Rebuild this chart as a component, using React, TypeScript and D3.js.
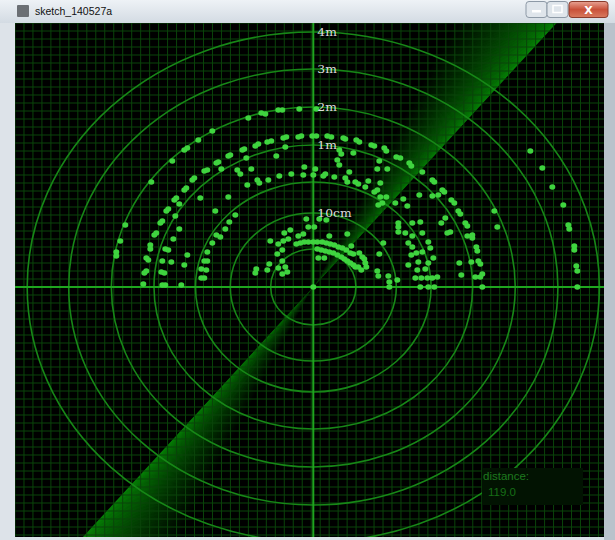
import { useEffect, useRef } from 'react';
import * as d3 from 'd3';

const W = 615;
const H = 540;
const TITLE = 'sketch_140527a';

// radar rings: distance (cm) and the label drawn on the vertical axis
const ringDistances = [5, 10, 50, 100, 200, 300, 400];
const ringLabels = ['', '10cm', '', '1m', '2m', '3m', '4m'];
const ringPixels = [38, 74, 105, 142, 180, 218, 255];

const sweepAngle = 50.6; // degrees, leading edge of the beam
const sweepTrail = 14; // degrees of fading trail
const distanceValue = 119.0;

// echoes as offsets from the radar centre [dx, dy] (y up)
const echoesUpperLeft: [number, number][] = [
	[-65, 169], [-52, 174], [-48, 173], [-101, 156], [-115, 147], [-126, 139], [-129, 137],
	[-141, 126], [-162, 105], [-83, 132], [-85, 131], [-95, 125], [-97, 124], [-106, 117],
	[-109, 116], [-92, 118], [-67, 129], [-71, 137], [-69, 138], [-58, 141], [-55, 143],
	[-46, 145], [-76, 117], [-73, 113], [-62, 118], [-66, 102], [-54, 104], [-56, 107],
	[-45, 107], [-119, 109], [-121, 107], [-127, 99], [-129, 97],
];

const echoesUpperMid: [number, number][] = [
	[-35, 177], [-31, 177], [-14, 178], [3, 178], [-42, 146], [-30, 149], [-27, 150],
	[-15, 150], [-12, 151], [-1, 151], [3, 151], [14, 151], [18, 150], [30, 149], [32, 148],
	[43, 147], [46, 145], [58, 142], [61, 141], [71, 139], [73, 136], [83, 130], [87, 129],
	[96, 124], [98, 121], [109, 115], [-28, 140], [-37, 131], [26, 137], [28, 133], [40, 134],
	[24, 127], [26, 122], [66, 126], [74, 118], [64, 118], [-9, 120], [2, 118], [-10, 112],
	[0, 112], [-22, 113], [-34, 111], [12, 113], [10, 111], [21, 110], [32, 109], [36, 115],
	[34, 105], [42, 105], [45, 103], [55, 106], [52, 100], [67, 104], [61, 95], [64, 97],
];

const echoesUpperRight: [number, number][] = [
	[217, 136], [229, 119], [239, 100], [119, 107], [121, 105], [129, 97], [131, 95],
];

const echoesLowerLeft: [number, number][] = [
	[-137, 89], [-139, 87], [-134, 83], [-145, 78], [-147, 76], [-151, 66], [-153, 64],
	[-138, 71], [-134, 58], [-157, 54], [-159, 52], [-188, 62], [-193, 46], [-197, 35],
	[-197, 31], [-163, 42], [-163, 38], [-140, 48], [-148, 38], [-145, 37], [-126, 32],
	[-129, 22], [-167, 29], [-165, 27], [-151, 26], [-142, 25], [-167, 16], [-169, 14],
	[-152, 15], [-149, 14], [-151, 2], [-148, 2], [-170, 3], [-132, 2], [-113, 89], [-85, 90],
	[-98, 76], [-78, 72], [-84, 65], [-88, 58], [-97, 52], [-93, 50], [-101, 44], [-106, 35],
	[-109, 26], [-106, 26], [-107, 17], [-112, 18], [-112, 9], [-109, 9], [-57, 18], [-58, 14],
];

const echoesLowerMid: [number, number][] = [
	[-7, 68], [6, 68], [13, 67], [-23, 57], [-29, 54], [-25, 48], [-30, 46], [-35, 43],
	[-43, 46], [-15, 51], [-10, 53], [-5, 60], [1, 60], [16, 51], [34, 53], [38, 41],
	[-31, 37], [-36, 33], [-31, 26], [-35, 19], [-28, 20], [-26, 15], [-31, 13], [-44, 23],
	[-46, 17], [-17, 43], [-13, 44], [-9, 45], [-5, 45], [0, 45], [4, 45], [9, 45], [13, 44],
	[17, 43], [21, 42], [25, 40], [29, 39], [33, 37], [37, 34], [40, 33], [4, 38], [8, 37],
	[12, 36], [16, 35], [20, 34], [24, 32], [28, 30], [31, 28], [34, 26], [37, 24], [40, 22],
	[42, 20], [5, 29], [11, 29], [46, 34], [49, 30], [51, 28], [52, 24], [45, 20], [48, 17],
	[53, 20], [0, 0],
];

const echoesLowerRight: [number, number][] = [
	[70, 44], [66, 33], [64, 16], [65, 11], [75, 11], [76, 5], [76, 0], [84, 7], [90, 88],
	[94, 81], [82, 84], [85, 64], [85, 60], [85, 55], [92, 54], [99, 64], [107, 65], [109, 54],
	[99, 51], [95, 44], [99, 40], [103, 34], [98, 32], [109, 35], [115, 45], [105, 25],
	[95, 22], [104, 17], [115, 24], [108, 9], [107, 0], [102, 9], [67, 90], [73, 90], [106, 92],
	[69, 84], [65, 82], [119, 91], [125, 92], [138, 87], [141, 84], [145, 76], [147, 73],
	[128, 64], [132, 69], [152, 64], [154, 61], [134, 54], [137, 55], [154, 51], [159, 52],
	[159, 49], [163, 40], [164, 36], [117, 39], [120, 29], [112, 18], [114, 9], [119, 9],
	[124, 10], [115, 0], [121, 0], [146, 24], [148, 12], [158, 25], [165, 26], [167, 23],
	[169, 13], [162, 10], [167, 10], [169, 0], [181, 76], [184, 60], [250, 82], [255, 62],
	[256, 58], [261, 41], [261, 37], [263, 21], [264, 16], [264, 0],
];

const echoes = [
	...echoesUpperLeft,
	...echoesUpperMid,
	...echoesUpperRight,
	...echoesLowerLeft,
	...echoesLowerMid,
	...echoesLowerRight,
];

// sketch canvas inside the window frame
const CANVAS = { x0: 15, y0: 23, x1: 604, y1: 537 };
const CX = 313.3;
const CY = 287;
const STRETCH = 1.122; // screenshot is wider than tall
const GRID = 8;

export default function App() {
	const svgRef = useRef<SVGSVGElement>(null);

	useEffect(() => {
		const svg = d3.select(svgRef.current);
		svg.selectAll('*').remove();
		const defs = svg.append('defs');

		// window chrome
		const tg = defs
			.append('linearGradient')
			.attr('id', 'title-grad')
			.attr('x1', 0)
			.attr('y1', 0)
			.attr('x2', 0)
			.attr('y2', 1);
		tg.append('stop').attr('offset', '0%').attr('stop-color', '#eef2f6');
		tg.append('stop').attr('offset', '100%').attr('stop-color', '#d3dbe3');

		const cg = defs
			.append('linearGradient')
			.attr('id', 'close-grad')
			.attr('x1', 0)
			.attr('y1', 0)
			.attr('x2', 0)
			.attr('y2', 1);
		cg.append('stop').attr('offset', '0%').attr('stop-color', '#e8a393');
		cg.append('stop').attr('offset', '50%').attr('stop-color', '#c9513a');
		cg.append('stop').attr('offset', '100%').attr('stop-color', '#d97b5f');

		svg.append('rect').attr('width', W).attr('height', H).attr('fill', '#dde3e9');
		svg.append('rect').attr('x', CANVAS.x1).attr('width', W - CANVAS.x1).attr('height', H).attr('fill', '#b9c2cb');
		svg.append('rect').attr('width', W).attr('height', CANVAS.y0).attr('fill', 'url(#title-grad)');

		svg.append('rect')
			.attr('x', 17)
			.attr('y', 5)
			.attr('width', 12)
			.attr('height', 12)
			.attr('rx', 1)
			.attr('fill', '#6b6f74');
		svg.append('text')
			.attr('x', 35)
			.attr('y', 15)
			.attr('font-family', 'Liberation Sans, Arial, sans-serif')
			.attr('font-size', 10.5)
			.attr('fill', '#111')
			.text(TITLE);

		const btn = svg.append('g');
		btn.append('rect')
			.attr('x', 526)
			.attr('y', 1.5)
			.attr('width', 21)
			.attr('height', 16)
			.attr('rx', 3)
			.attr('fill', '#dfe5eb')
			.attr('stroke', '#8d99a6');
		btn.append('rect')
			.attr('x', 547)
			.attr('y', 1.5)
			.attr('width', 21)
			.attr('height', 16)
			.attr('rx', 3)
			.attr('fill', '#dfe5eb')
			.attr('stroke', '#8d99a6');
		btn.append('rect')
			.attr('x', 569)
			.attr('y', 1.5)
			.attr('width', 39)
			.attr('height', 16)
			.attr('rx', 3)
			.attr('fill', 'url(#close-grad)')
			.attr('stroke', '#8a3b2c');
		btn.append('rect').attr('x', 532).attr('y', 10).attr('width', 9).attr('height', 2.5).attr('fill', '#fff');
		btn.append('rect')
			.attr('x', 553)
			.attr('y', 5.5)
			.attr('width', 9)
			.attr('height', 7)
			.attr('fill', 'none')
			.attr('stroke', '#fff')
			.attr('stroke-width', 1.5);
		btn.append('text')
			.attr('x', 588.5)
			.attr('y', 14)
			.attr('text-anchor', 'middle')
			.attr('font-family', 'DejaVu Sans, sans-serif')
			.attr('font-weight', 'bold')
			.attr('font-size', 11)
			.attr('fill', '#fff')
			.text('X');

		// sketch canvas
		defs.append('clipPath')
			.attr('id', 'canvas-clip')
			.append('rect')
			.attr('x', CANVAS.x0)
			.attr('y', CANVAS.y0)
			.attr('width', CANVAS.x1 - CANVAS.x0)
			.attr('height', CANVAS.y1 - CANVAS.y0);

		const canvas = svg.append('g').attr('clip-path', 'url(#canvas-clip)');
		canvas.append('rect')
			.attr('x', CANVAS.x0)
			.attr('y', CANVAS.y0)
			.attr('width', CANVAS.x1 - CANVAS.x0)
			.attr('height', CANVAS.y1 - CANVAS.y0)
			.attr('fill', '#000');

		// sweep beam, both halves, fading behind the leading edge
		const beam = canvas
			.append('g')
			.attr('transform', `translate(${CX},${CY}) scale(${STRETCH},1)`);
		const steps = 80;
		const step = sweepTrail / steps;
		const fade = d3.interpolateRgb('rgb(6,128,6)', '#000');
		const toRad = (deg: number) => (deg * Math.PI) / 180;
		const slices: { a: number; t: number }[] = [];
		[sweepAngle, sweepAngle + 180].forEach((base) => {
			for (let i = 0; i < steps; i++) slices.push({ a: base + i * step, t: i / steps });
		});
		const beamArc = d3
			.arc<{ a: number; t: number }>()
			.innerRadius(0)
			.outerRadius(900)
			.startAngle((d) => toRad(90 - d.a))
			.endAngle((d) => toRad(90 - d.a - step * 1.6));
		beam.selectAll('path')
			.data(slices.slice().reverse())
			.join('path')
			.attr('d', beamArc)
			.attr('fill', (d) => fade(Math.pow(d.t, 0.75)));

		// fine grid
		const gx = d3.range(CANVAS.x0, CANVAS.x1, GRID * STRETCH);
		const gy = d3.range(CANVAS.y0, CANVAS.y1, GRID);
		const grid = canvas.append('g').attr('stroke', '#0a440a').attr('stroke-width', 1);
		grid.selectAll('line.v')
			.data(gx)
			.join('line')
			.attr('class', 'v')
			.attr('x1', (d) => d)
			.attr('x2', (d) => d)
			.attr('y1', CANVAS.y0)
			.attr('y2', CANVAS.y1);
		grid.selectAll('line.h')
			.data(gy)
			.join('line')
			.attr('class', 'h')
			.attr('x1', CANVAS.x0)
			.attr('x2', CANVAS.x1)
			.attr('y1', (d) => d)
			.attr('y2', (d) => d);

		// range rings
		const rScale = d3
			.scaleLinear()
			.domain([0, ...ringDistances])
			.range([0, ...ringPixels]);
		canvas.append('g')
			.selectAll('ellipse')
			.data(ringDistances)
			.join('ellipse')
			.attr('cx', CX)
			.attr('cy', CY)
			.attr('rx', (d) => rScale(d) * STRETCH)
			.attr('ry', (d) => rScale(d))
			.attr('fill', 'none')
			.attr('stroke', '#178717')
			.attr('stroke-width', 1.6);

		// axes through the centre
		canvas.append('line')
			.attr('x1', CANVAS.x0)
			.attr('x2', CANVAS.x1)
			.attr('y1', CY)
			.attr('y2', CY)
			.attr('stroke', '#1fa51f')
			.attr('stroke-width', 2);
		canvas.append('line')
			.attr('x1', CX)
			.attr('x2', CX)
			.attr('y1', CANVAS.y0)
			.attr('y2', CANVAS.y1)
			.attr('stroke', '#1fa51f')
			.attr('stroke-width', 2);

		// echoes
		const xScale = d3.scaleLinear().domain([-300, 300]).range([CX - 300, CX + 300]);
		const yScale = d3.scaleLinear().domain([-300, 300]).range([CY + 300, CY - 300]);
		canvas.append('g')
			.selectAll('ellipse')
			.data(echoes)
			.join('ellipse')
			.attr('cx', (d) => xScale(d[0]))
			.attr('cy', (d) => yScale(d[1]))
			.attr('rx', 3)
			.attr('ry', 2.7)
			.attr('fill', '#3fd43f');

		// ring labels
		canvas.append('g')
			.selectAll('text')
			.data(ringDistances.filter((_, i) => ringLabels[i] !== ''))
			.join('text')
			.attr('transform', (d) => `translate(${CX + 4},${CY - rScale(d)}) scale(${STRETCH},1)`)
			.attr('dy', '0.35em')
			.attr('font-family', 'DejaVu Serif, serif')
			.attr('font-size', 11)
			.attr('fill', '#dedede')
			.text((d) => ringLabels[ringDistances.indexOf(d)]);

		// distance readout
		canvas.append('rect')
			.attr('x', 482)
			.attr('y', 468)
			.attr('width', 101)
			.attr('height', 37)
			.attr('fill', '#021302');
		canvas.append('text')
			.attr('x', 483)
			.attr('y', 480)
			.attr('font-family', 'Liberation Sans, Arial, sans-serif')
			.attr('font-size', 11.5)
			.attr('fill', '#1e7a1e')
			.text('distance:');
		canvas.append('text')
			.attr('x', 488)
			.attr('y', 495.5)
			.attr('font-family', 'Liberation Sans, Arial, sans-serif')
			.attr('font-size', 11.5)
			.attr('fill', '#166e16')
			.text(distanceValue.toFixed(1));
	}, []);

	return (
		<svg
			ref={svgRef}
			width={W}
			height={H}
			style={{ position: 'fixed', left: 0, top: 0, display: 'block' }}
		/>
	);
}
